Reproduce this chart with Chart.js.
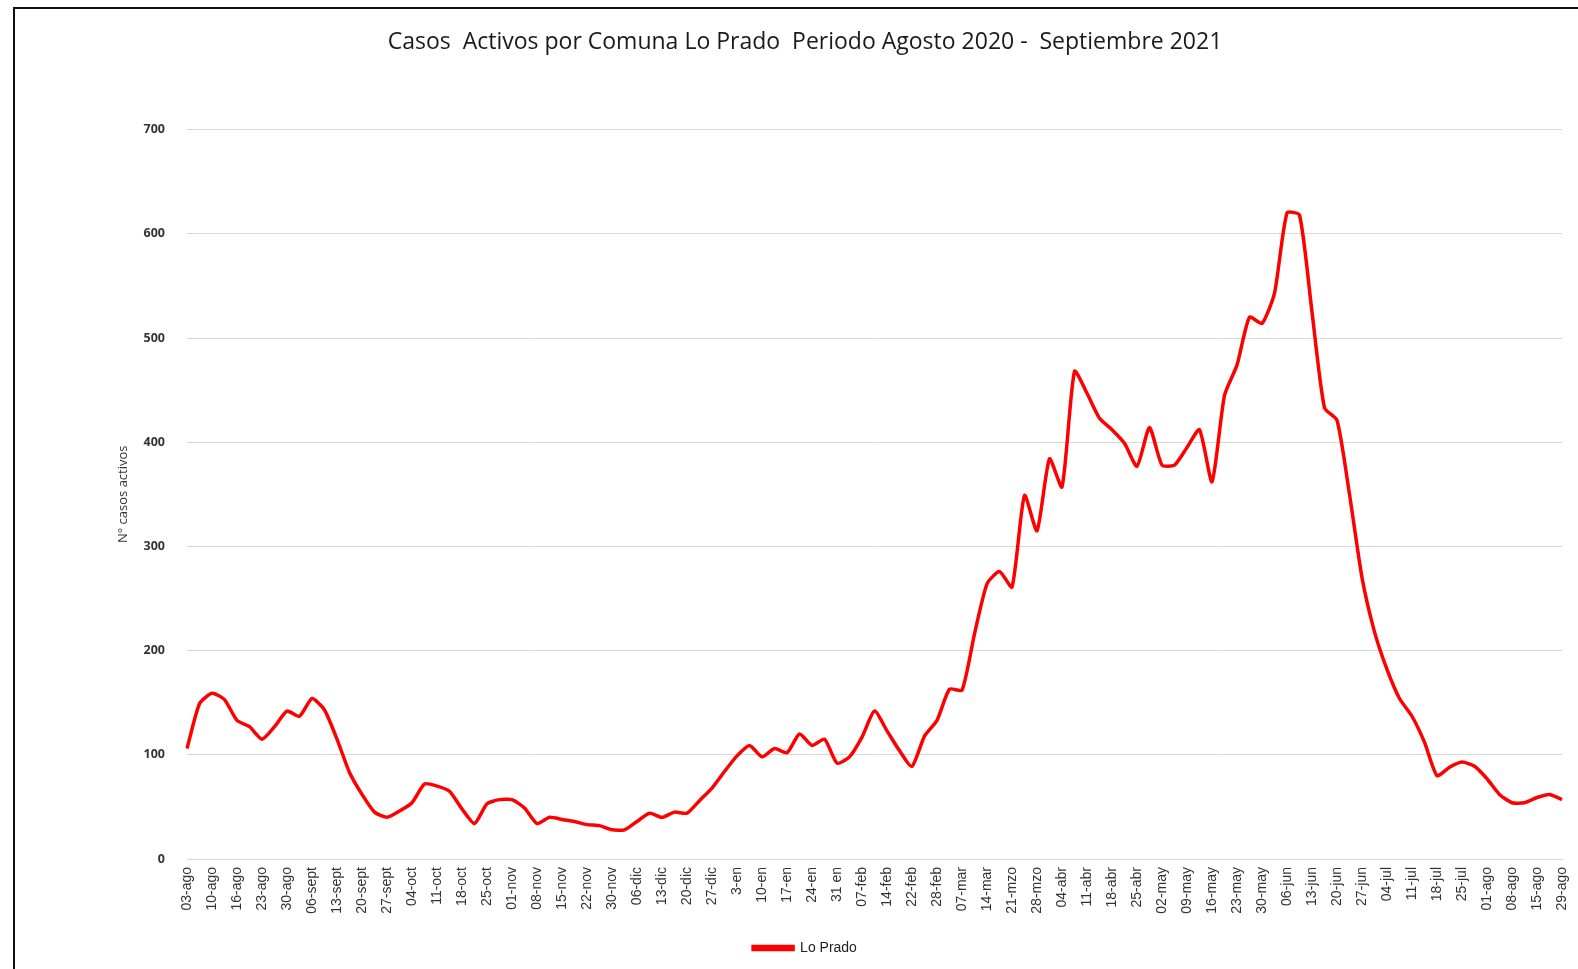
<!DOCTYPE html>
<html>
<head>
<meta charset="utf-8">
<script src="https://cdn.jsdelivr.net/npm/chart.js@4.4.0/dist/chart.umd.min.js"></script>
<style>
  html, body { margin: 0; padding: 0; background: #fff; }
  #wrap { width: 1578px; height: 969px; position: relative; }
</style>
</head>
<body>
<div id="wrap"><canvas id="c" width="1578" height="969"></canvas></div>
<script>
// Tick labels (one every second data point)
const tickLabels = [
  '03-ago','10-ago','16-ago','23-ago','30-ago','06-sept','13-sept','20-sept','27-sept',
  '04-oct','11-oct','18-oct','25-oct','01-nov','08-nov','15-nov','22-nov','30-nov',
  '06-dic','13-dic','20-dic','27-dic','3-en','10-en','17-en','24-en','31 en',
  '07-feb','14-feb','22-feb','28-feb','07-mar','14-mar','21-mzo','28-mzo',
  '04-abr','11-abr','18-abr','25-abr','02-may','09-may','16-may','23-may','30-may',
  '06-jun','13-jun','20-jun','27-jun','04-jul','11-jul','18-jul','25-jul',
  '01-ago','08-ago','15-ago','29-ago'
];

// Active cases, Lo Prado (two readings per labelled interval)
const loPrado = [
  106,149,159,153,133,127,115,127,142,137,
  154,143,115,83,62,45,40,46,54,72,
  70,65,48,34,53,57,57,49,34,40,
  38,36,33,32,28,28,36,44,40,45,
  44,56,68,84,99,109,98,106,102,120,
  109,115,92,98,117,142,123,104,89,118,
  133,163,162,216,264,276,261,349,315,384,
  357,468,447,423,412,399,377,414,378,378,
  395,412,362,445,474,520,514,543,620,618,
  525,433,421,350,270,218,182,154,137,112,
  80,88,93,89,77,62,54,54,59,62,
  57
];

const yTicks = [0,100,200,300,400,500,600,700];

// Build categories: labelled point, then an unlabelled point
const categories = [];
for (let i = 0; i < loPrado.length; i++) {
  categories.push(i % 2 === 0 ? (tickLabels[i / 2] || '') : '');
}

const framePlugin = {
  id: 'frame',
  beforeDraw(chart) {
    const ctx = chart.ctx;
    ctx.save();
    ctx.fillStyle = '#ffffff';
    ctx.fillRect(0, 0, chart.width, chart.height);
    ctx.restore();
  },
  afterDraw(chart) {
    const ctx = chart.ctx;
    ctx.save();
    ctx.strokeStyle = '#111111';
    ctx.lineWidth = 2;
    ctx.beginPath();
    ctx.moveTo(14, 969);
    ctx.lineTo(14, 8);
    ctx.lineTo(1578, 8);
    ctx.stroke();
    ctx.restore();
  }
};

new Chart(document.getElementById('c'), {
  type: 'line',
  data: {
    labels: categories,
    datasets: [{
      label: 'Lo Prado',
      data: loPrado,
      borderColor: '#ff0000',
      backgroundColor: '#ff0000',
      borderWidth: 3.5,
      pointRadius: 0,
      tension: 0.2,
      fill: false
    }]
  },
  options: {
    responsive: false,
    animation: false,
    layout: { padding: { left: 48, right: 16, top: 0, bottom: 4 } },
    plugins: {
      title: {
        display: true,
        text: 'Casos  Activos por Comuna Lo Prado  Periodo Agosto 2020 -  Septiembre 2021',
        color: '#1a1a1a',
        font: { family: "'Open Sans', sans-serif", size: 23, weight: 'normal' },
        padding: { top: 29, bottom: 73 }
      },
      legend: {
        display: true,
        position: 'bottom',
        labels: {
          boxWidth: 40,
          boxHeight: 3,
          padding: 10,
          color: '#222222',
          font: { family: "'Liberation Sans Narrow', 'Liberation Sans', sans-serif", size: 14 }
        }
      },
      tooltip: { enabled: false }
    },
    scales: {
      x: {
        type: 'category',
        offset: false,
        grid: { display: false, drawTicks: false },
        border: { display: true, color: '#d9d9d9', width: 1 },
        ticks: {
          autoSkip: false,
          maxRotation: 90,
          minRotation: 90,
          padding: 8,
          color: '#333333',
          font: { family: "'Liberation Sans Narrow', 'Liberation Sans', sans-serif", size: 14 }
        },
        afterFit(scale) {
          scale.height = 72;
          scale.paddingLeft = 0;
          scale.paddingRight = 0;
        }
      },
      y: {
        min: 0,
        max: 700,
        afterBuildTicks(scale) { scale.ticks = yTicks.map(v => ({ value: v })); },
        grid: { color: '#d9d9d9', lineWidth: 1, drawTicks: false },
        border: { display: false },
        ticks: {
          padding: 22,
          color: '#333333',
          font: { family: "'Open Sans', sans-serif", size: 12.5, weight: 'bold' }
        },
        title: {
          display: true,
          text: 'N° casos activos',
          color: '#333333',
          font: { family: "'Open Sans', sans-serif", size: 13 },
          padding: { top: 67, bottom: 0 }
        },
        afterFit(scale) { scale.width = 139; }
      }
    }
  },
  plugins: [framePlugin]
});
</script>
</body>
</html>
